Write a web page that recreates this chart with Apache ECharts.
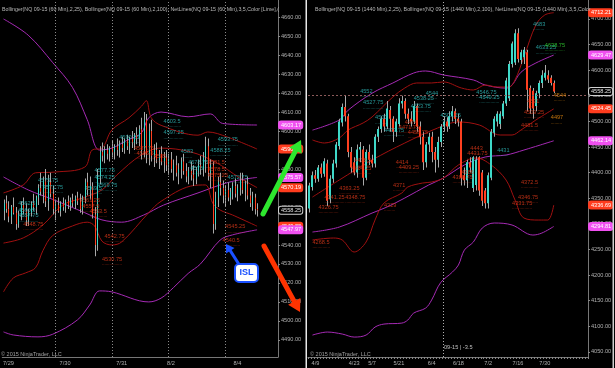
<!DOCTYPE html>
<html><head><meta charset="utf-8">
<script src="https://cdn.jsdelivr.net/npm/echarts@6/dist/echarts.min.js"></script>
<style>html,body{margin:0;padding:0;background:#000;}#c{width:615px;height:368px;}</style>
</head><body><div id="c"></div>
<script>
// ---------------- LEFT PANEL (60 Min) ----------------
const leftCount = 112;
const leftTickIdx = [2, 25, 48, 68, 95];
const leftTickLbl = ['7/29', '7/30', '7/31', '8/2', '8/4'];
const leftSessionBreaks = [21, 44, 67, 90];
const leftYTicks = [4490,4500,4510,4520,4530,4540,4550,4560,4570,4580,4590,4600,4610,4620,4630,4640,4650,4660];
// [open, high, low, close]
const leftOHLC = [
[4558,4564,4553,4562],[4562,4566,4557,4559],[4559,4563,4552,4555],[4555,4561,4551,4560],[4560,4565,4556,4557],
[4557,4560,4548,4551],[4551,4558,4549,4556],[4556,4563,4553,4561],[4561,4565,4556,4558],[4558,4562,4550,4553],
[4553,4559,4550,4557],[4557,4563,4555,4562],[4562,4567,4558,4560],[4560,4566,4556,4565],[4565,4572,4561,4570],
[4570,4578,4566,4568],[4568,4576,4562,4574],[4574,4580,4560,4563],[4563,4577,4558,4573],[4573,4578,4565,4567],
[4567,4571,4556,4559],[4559,4564,4553,4561],[4561,4565,4557,4558],[4558,4563,4555,4562],[4562,4565,4558,4560],
[4560,4564,4557,4563],[4563,4566,4559,4561],[4561,4565,4558,4564],[4564,4567,4560,4562],[4562,4566,4559,4565],
[4565,4568,4561,4563],[4563,4567,4557,4559],[4559,4566,4556,4565],[4565,4575,4562,4573],[4573,4578,4566,4569],
[4569,4576,4564,4571],[4571,4573,4554,4556],[4556,4560,4534,4540],[4540,4580,4537,4576],[4576,4592,4572,4589],
[4589,4594,4584,4587],[4587,4592,4583,4590],[4590,4593,4585,4588],[4588,4592,4584,4591],[4591,4595,4586,4589],
[4589,4593,4585,4592],[4592,4596,4587,4590],[4590,4595,4586,4593],[4593,4597,4589,4591],[4591,4596,4588,4595],
[4595,4598,4590,4592],[4592,4597,4588,4596],[4596,4600,4591,4594],[4594,4599,4590,4598],[4598,4602,4593,4596],
[4596,4603,4592,4601],[4601,4607,4585,4590],[4590,4610,4586,4606],[4606,4609,4583,4588],[4588,4604,4582,4600],
[4600,4606,4584,4587],[4587,4593,4581,4590],[4590,4594,4583,4585],[4585,4590,4580,4588],[4588,4592,4582,4584],
[4584,4589,4578,4586],[4586,4590,4579,4582],[4582,4588,4577,4585],[4585,4589,4578,4580],[4580,4585,4574,4582],
[4582,4587,4576,4578],[4578,4583,4572,4580],[4580,4586,4575,4584],[4584,4588,4577,4579],[4579,4583,4573,4576],
[4576,4581,4572,4579],[4579,4584,4574,4577],[4577,4582,4571,4575],[4575,4581,4572,4579],[4579,4585,4576,4582],
[4582,4587,4577,4580],[4580,4589,4576,4586],[4586,4597,4578,4592],[4592,4596,4574,4578],[4578,4585,4570,4582],
[4582,4584,4546,4551],[4551,4568,4548,4565],[4565,4576,4560,4573],[4573,4578,4566,4570],[4570,4574,4562,4566],
[4566,4571,4560,4569],[4569,4573,4563,4565],[4565,4570,4561,4568],[4568,4573,4564,4571],[4571,4575,4565,4567],
[4567,4572,4563,4570],[4570,4578,4566,4574],[4574,4578,4567,4569],[4569,4574,4563,4572],[4572,4576,4564,4566],
[4566,4570,4560,4562],[4562,4568,4558,4565],[4565,4567,4556,4559],[4559,4562,4555,4558.25]
];
const leftBB100Upper = [[0,4659],[10,4650.5],[20,4636],[28,4623],[34,4606],[39,4590],[44,4591],[50,4595],[56,4599],[59,4607],[64,4610],[75,4607.5],[84,4609],[89,4604],[103,4603.17]];
const leftBB100Mid   = [[0,4575.8],[10,4569],[20,4564],[33,4557],[40,4553.2],[48,4552],[57,4555.8],[65,4561],[79,4567.4],[92,4573.2],[103,4575.57]];
const leftBB100Lower = [[0,4494.2],[4,4492.6],[14,4491.6],[20,4493],[30,4500.5],[35,4508.4],[39,4515.8],[44,4515.3],[59,4510],[64,4512],[69,4517.5],[75,4525],[80,4530],[88,4542.6],[93,4545.3],[103,4547.97]];
const leftBB25Upper  = [[0,4567.4],[8,4571.6],[13,4578],[21,4578.4],[33,4581],[36,4590],[40,4591],[44,4600.5],[51,4607],[56,4613],[58,4616],[60,4607],[64,4603],[79,4597.8],[83,4599.5],[91,4596.8],[103,4590.5]];
const leftBB25Mid    = [[0,4541],[8,4543.7],[16,4550.5],[24,4561],[32,4564.7],[40,4569],[46,4576.8],[56,4587.4],[64,4591],[76,4589],[86,4583.7],[96,4575.3],[103,4570.19]];
const leftBB25Lower  = [[0,4515.3],[4,4522.6],[9,4525.3],[13,4528],[16,4537],[20,4545],[28,4550],[34,4552],[37,4550],[40,4542],[44,4540],[48,4541.6],[59,4557],[64,4563],[76,4571],[82,4571.6],[85,4562],[88,4558.4],[93,4555.8],[103,4549.88]];
// NetLines labels: [text, barIndex, price]
const leftCyanLabels = [['4562.5',5.5,4561.6],['4560.5',6.3,4558.4],['4557.75',5.5,4555.3],['4575.75',14.4,4574.2],['4571.75',15.6,4570.5],
  ['4569.5',32.5,4570],['4577.75',36.6,4579.5],['4574.25',37.4,4575.8],['4569.75',38.2,4571.6],['4590.25',46.6,4596.8],
  ['4603.5',65.2,4605.3],['4597.25',65.2,4599],['4583',72,4589],['4578.75',75.2,4583.7],['4576',76,4580.5],
  ['4593.75',87.3,4595.3],['4588.25',84.1,4590],['4572.75',91.4,4575.8]];
const leftRedLabels = [['4548.75',7.6,4551],['4561.25',30.9,4563.7],['4557.5',31.7,4560.5],['4553.5',35,4557.9],['4542.75',41,4544.7],
  ['4530.75',39.8,4532.6],['4587.75',52.7,4591],['4585.5',53.5,4588.4],['4585',60.7,4586.8],['4581.5',83.3,4583.2],
  ['4578.5',83.3,4580],['4575.25',83.3,4576.8],['4545.25',90.2,4549.5],['4540.5',89.3,4542.6]];
const leftTags = [[4603.17,'m'],[4590.50,'r'],[4575.57,'m'],[4570.19,'r'],[4558.25,'k'],[4549.88,'r'],[4547.97,'m']];

// ---------------- RIGHT PANEL (1440 Min) ----------------
const rightCount = 94;
const rightTickIdx = [2, 15, 21, 30, 41, 50, 60, 70, 79];
const rightTickLbl = ['4/9','4/23','5/7','5/21','6/4','6/18','7/2','7/16','7/30'];
const rightYTicks = [4050,4100,4150,4200,4250,4300,4350,4400,4450,4500,4550,4600,4650,4700];
const rightOHLC = [
[4330,4380,4322,4375],[4372,4402,4365,4395],[4395,4405,4380,4388],[4388,4415,4382,4410],[4410,4418,4390,4398],
[4398,4428,4392,4422],[4418,4425,4335,4345],[4348,4395,4340,4388],[4388,4425,4380,4418],[4418,4460,4410,4455],
[4452,4505,4445,4500],[4498,4535,4490,4528],[4528,4550,4500,4510],[4510,4515,4430,4440],[4440,4450,4400,4410],
[4420,4430,4395,4400],[4400,4455,4390,4445],[4445,4460,4420,4450],[4445,4452,4375,4390],[4390,4445,4385,4440],
[4440,4455,4415,4425],[4425,4435,4410,4418],[4418,4475,4410,4470],[4470,4490,4460,4485],[4485,4510,4478,4505],
[4505,4515,4480,4490],[4490,4540,4485,4525],[4522,4530,4480,4505],[4505,4510,4460,4480],[4480,4505,4470,4500],
[4495,4545,4490,4535],[4535,4550,4525,4540],[4540,4545,4505,4515],[4515,4525,4495,4505],[4505,4520,4490,4500],
[4500,4540,4495,4530],[4530,4535,4480,4490],[4490,4500,4455,4470],[4470,4480,4405,4420],[4420,4460,4410,4455],
[4455,4478,4440,4470],[4470,4480,4420,4440],[4440,4450,4400,4425],[4425,4470,4410,4460],[4460,4495,4450,4490],
[4490,4510,4480,4500],[4500,4508,4480,4490],[4490,4520,4485,4510],[4510,4530,4500,4520],[4520,4525,4495,4505],
[4505,4515,4490,4500],[4500,4505,4375,4390],[4395,4410,4375,4385],[4385,4425,4370,4420],[4420,4430,4400,4410],
[4370,4432,4362,4430],[4376,4432,4365,4425],[4430,4432,4355,4365],[4400,4405,4335,4345],[4365,4370,4330,4340],
[4340,4400,4330,4395],[4390,4485,4385,4480],[4478,4510,4470,4505],[4500,4520,4490,4515],[4495,4520,4485,4515],
[4510,4540,4505,4535],[4535,4585,4530,4580],[4545,4618,4540,4612],[4612,4656,4605,4652],[4615,4680,4610,4672],
[4672,4682,4615,4622],[4620,4640,4612,4635],[4625,4645,4612,4640],[4635,4640,4520,4562],[4565,4570,4515,4525],
[4560,4565,4505,4525],[4530,4560,4520,4555],[4555,4580,4545,4575],[4575,4600,4565,4590],[4585,4610,4580,4595],
[4590,4600,4575,4582],[4585,4590,4570,4575],[4575,4580,4555,4558.25]
];
const rightBB100Upper = [[1,4483],[10,4502.7],[13,4522],[21,4555],[28,4575],[35,4594.5],[39,4598.4],[45,4590.6],[55,4580.9],[59,4571],[66,4565],[68,4571],[71,4596],[76,4614],[82,4629.47]];
const rightBB100Mid   = [[1,4284],[10,4293.7],[21,4321],[26,4332.8],[32,4350.4],[40,4375.8],[45,4389.5],[52,4414.9],[59,4430.5],[66,4434.4],[72,4444.1],[82,4462.14]];
const rightBB100Lower = [[1,4082.8],[6,4088.7],[11,4084.8],[15,4078.9],[19,4082.8],[22,4098.4],[25,4104.3],[31,4106.2],[33,4112.1],[35,4125.8],[39,4135.5],[41,4151.2],[44,4185],[48,4205.9],[50,4219.5],[52,4248.8],[55,4264.4],[58,4291.8],[62,4301.6],[68,4297.7],[75,4278.1],[78,4282],[82,4294.81]];
const rightBB25Upper  = [[1,4463.7],[5,4457.8],[10,4467.6],[13,4483.2],[18,4496.9],[21,4508.6],[28,4547.7],[32,4565.2],[36,4575],[41,4575],[45,4577],[51,4565.2],[55,4561.3],[59,4571],[63,4567.2],[67,4567.2],[69,4580.9],[72,4625.8],[76,4688.3],[79,4707.8],[82,4712.21]];
const rightBB25Mid    = [[1,4352.3],[10,4385.5],[21,4424.6],[32,4457.8],[43,4487],[50,4498.8],[57,4493],[64,4473.4],[68,4473.4],[71,4483.2],[76,4502.7],[82,4524.45]];
const rightBB25Lower  = [[1,4268.4],[8,4272.3],[11,4268.4],[15,4245],[19,4264.5],[22,4307.4],[25,4340.6],[31,4360.2],[33,4371.9],[38,4379.7],[41,4381.6],[45,4389.5],[50,4414.9],[56,4428.5],[61,4414.9],[66,4385.5],[69,4346.5],[72,4311.3],[77,4307.4],[80,4307.4],[82,4336.69]];
const rightCyanLabels = [['4552',17,4559.4],['4527.75',18,4536],['4500',22,4506.8],['4479.75',25.3,4483.2],['4538.25',35.4,4545.7],
  ['4544',38.8,4555.5],['4523.75',34.4,4530],['4503.25',43.8,4512.5],['4546.75',56.2,4557.4],['4540.25',57.2,4547.7],
  ['4683',75,4690],['4633.25',76,4643.4],['4431',63.3,4444.1]];
const rightGreenLabels = [['4638.75',79,4649.2]];
const rightRedLabels = [['4418.5',14.6,4424.6],['4404.25',13.6,4409],['4414',28.7,4420.7],['4409.25',30.4,4410.9],['4474',32.1,4498.8],
  ['4471.75',30.4,4489],['4458.75',33.1,4479.3],['4371',28,4375.8],['4329',24.7,4336.7],['4363.25',9.6,4369.9],
  ['4341.25',5.2,4352.3],['4348.75',11.9,4352.3],['4326.75',2.9,4332.8],['4268.5',1.2,4264.5],['4443',53.9,4448],
  ['4431.75',53.2,4438.3],['4388.75',47.8,4391.4],['4386',51.2,4401.2],['4372.5',70.7,4381.6],['4346.75',69.7,4352.3],
  ['4331.75',68.3,4340.6],['4531',73,4539.8],['4509.25',72.3,4518.4],['4481.5',71.3,4493]];
const rightOrangeLabels = [['4544',81.7,4551.6],['4497',80.7,4506.8]];
const rightTags = [[4712.21,'r'],[4629.47,'m'],[4558.25,'k'],[4524.45,'r'],[4462.14,'m'],[4336.69,'r'],[4294.81,'m']];
const rightCrossX = 45, rightCrossY = 4552;

// ---------------- STYLE ----------------
const FONT = '"Liberation Sans", Arial, sans-serif';
const FS = 5.6;
const UP = '#3ed8c8', DOWN = '#ff4020', WICK = '#a8a8a8';
const PURPLE = '#a52ab4', DARKRED = '#a01010';
const AXC = '#b0b0b0';
const TAGC = { m: ['#f050f0', '#ffffff', '#f050f0'], r: ['#ff3c1e', '#ffffff', '#ff3c1e'], k: ['#000000', '#e0e0e0', '#d0d0d0'] };

function cats(n, p) { const a = []; for (let i = 0; i < n; i++) a.push(p + i); return a; }
function lblMap(idx, lbl) { const m = {}; idx.forEach((v, k) => m[v] = lbl[k]); return m; }

function candleRender(factor) {
  return function (params, api) {
    const i = api.value(0), o = api.value(1), h = api.value(2), l = api.value(3), c = api.value(4);
    const pO = api.coord([i, o]), pC = api.coord([i, c]), pH = api.coord([i, h]), pL = api.coord([i, l]);
    const xc = Math.round(pO[0]);
    const bw = Math.max(1, Math.round(api.size([1, 0])[0] * factor));
    const top = Math.min(pO[1], pC[1]);
    return { type: 'group', children: [
      { type: 'rect', shape: { x: xc, y: pH[1], width: 1, height: pL[1] - pH[1] }, style: { fill: WICK } },
      { type: 'rect', shape: { x: xc - Math.floor(bw / 2), y: top, width: bw, height: Math.max(1, Math.abs(pC[1] - pO[1])) }, style: { fill: c >= o ? UP : DOWN } }
    ]};
  };
}
function bandSeries(data, color, ax) {
  return { type: 'line', xAxisIndex: ax, yAxisIndex: ax, data: data, smooth: 0.35, showSymbol: false, symbol: 'none',
    lineStyle: { color: color, width: 1 }, silent: true, z: 2 };
}
function labelSeries(list, color, ax) {
  return { type: 'scatter', xAxisIndex: ax, yAxisIndex: ax, symbolSize: 0, silent: true, z: 5,
    data: list.map(d => ({ name: d[0], value: [d[1], d[2]] })),
    label: { show: true, position: 'right', distance: 0, offset: [0, 1.5],
      formatter: p => '{t|' + p.name + '}\n{u|' + '.'.repeat(Math.round(p.name.length * 2.3)) + '}',
      color: color, fontFamily: FONT,
      rich: { t: { fontSize: FS, lineHeight: 6, color: color, fontFamily: FONT }, u: { fontSize: 4.5, lineHeight: 3, color: color, fontFamily: FONT } } } };
}
function tagLines(tags) {
  return tags.map(t => ({ yAxis: t[0], lineStyle: { color: 'rgba(0,0,0,0)', width: 1 },
    label: { show: true, position: 'end', distance: 1, formatter: p => Number(p.value).toFixed(2),
      backgroundColor: TAGC[t[1]][0], color: TAGC[t[1]][1], borderColor: TAGC[t[1]][2], borderWidth: 1, borderRadius: 2,
      padding: [1, 1, 0, 2], fontSize: FS, fontFamily: FONT } }));
}
function xAxisDef(ax, n, prefix, map, ticks) {
  return { type: 'category', gridIndex: ax, data: cats(n, prefix),
    axisLine: { lineStyle: { color: '#777' } },
    axisTick: { show: ticks, interval: 0, length: 2, lineStyle: { color: '#888' } },
    axisLabel: { interval: 0, margin: 3, color: AXC, fontSize: FS, fontFamily: FONT, formatter: (v, i) => map[i] || '' },
    splitLine: { show: false } };
}
function yAxisDef(ax, min, max, ticks) {
  return { type: 'value', gridIndex: ax, position: 'right', min: min, max: max, scale: true,
    axisLine: { show: true, lineStyle: { color: '#777' } },
    axisTick: { show: true, length: 2, customValues: ticks, lineStyle: { color: '#888' } },
    axisLabel: { margin: 3, color: AXC, fontSize: FS, fontFamily: FONT, customValues: ticks, formatter: v => v.toFixed(2) },
    splitLine: { show: false } };
}

const leftMap = lblMap(leftTickIdx, leftTickLbl);
const rightMap = lblMap(rightTickIdx, rightTickLbl);

const series = [
  bandSeries(leftBB100Upper, PURPLE, 0), bandSeries(leftBB100Mid, PURPLE, 0), bandSeries(leftBB100Lower, PURPLE, 0),
  bandSeries(leftBB25Upper, DARKRED, 0), bandSeries(leftBB25Mid, DARKRED, 0), bandSeries(leftBB25Lower, DARKRED, 0),
  { type: 'custom', xAxisIndex: 0, yAxisIndex: 0, z: 3, renderItem: candleRender(0.6),
    data: leftOHLC.map((d, i) => [i, d[0], d[1], d[2], d[3]]), encode: { x: 0, y: [1, 2, 3, 4] },
    markLine: { silent: true, symbol: 'none', animation: false,
      data: leftSessionBreaks.map(b => ({ xAxis: b, lineStyle: { color: '#8a8a8a', type: [1, 2], width: 1 }, label: { show: false } })) } },
  { type: 'line', xAxisIndex: 0, yAxisIndex: 0, data: [], z: 20,
    markLine: { silent: true, symbol: 'none', animation: false, data: tagLines(leftTags) } },
  labelSeries(leftCyanLabels, '#2fbcbc', 0), labelSeries(leftRedLabels, '#e23a1a', 0),

  bandSeries(rightBB100Upper, PURPLE, 1), bandSeries(rightBB100Mid, PURPLE, 1), bandSeries(rightBB100Lower, PURPLE, 1),
  bandSeries(rightBB25Upper, DARKRED, 1), bandSeries(rightBB25Mid, DARKRED, 1), bandSeries(rightBB25Lower, DARKRED, 1),
  { type: 'custom', xAxisIndex: 1, yAxisIndex: 1, z: 3, renderItem: candleRender(0.7),
    data: rightOHLC.map((d, i) => [i, d[0], d[1], d[2], d[3]]), encode: { x: 0, y: [1, 2, 3, 4] },
    markLine: { silent: true, symbol: 'none', animation: false,
      data: [{ xAxis: rightCrossX, lineStyle: { color: '#b0b0b0', type: [1, 2], width: 1 }, label: { show: false } },
             { yAxis: rightCrossY, lineStyle: { color: '#8c5a5a', type: [2, 2], width: 1 }, label: { show: false } }] } },
  { type: 'line', xAxisIndex: 1, yAxisIndex: 1, data: [], z: 20,
    markLine: { silent: true, symbol: 'none', animation: false, data: tagLines(rightTags) } },
  labelSeries(rightCyanLabels, '#2fbcbc', 1), labelSeries(rightRedLabels, '#e23a1a', 1),
  labelSeries(rightGreenLabels, '#33dd33', 1), labelSeries(rightOrangeLabels, '#f09010', 1)
];

function arrow(x1, y1, x2, y2, w, headL, headW, color) {
  const dx = x2 - x1, dy = y2 - y1, L = Math.hypot(dx, dy), ux = dx / L, uy = dy / L;
  const bx = x2 - ux * headL, by = y2 - uy * headL, px = -uy, py = ux;
  return [
    { type: 'polyline', shape: { points: [[x1, y1], [bx + ux, by + uy]] }, style: { stroke: color, lineWidth: w, lineCap: 'round' }, z: 100 },
    { type: 'polygon', shape: { points: [[x2, y2], [bx + px * headW, by + py * headW], [bx - px * headW, by - py * headW]] }, style: { fill: color }, z: 100 }
  ];
}

const chart = echarts.init(document.getElementById('c'), null, { renderer: 'canvas' });
chart.setOption({
  backgroundColor: '#000',
  animation: false,
  title: [
    { text: 'Bollinger(NQ 09-15 (60 Min),2,25), Bollinger(NQ 09-15 (60 Min),2,100), NetLines(NQ 09-15 (60 Min),3,5,Color [Lime],(',
      left: -3, top: 2, textStyle: { color: '#b8b8b8', fontSize: 5.3, fontWeight: 'normal', fontFamily: FONT, width: 280, overflow: 'truncate', ellipsis: '' } },
    { text: 'Bollinger(NQ 09-15 (1440 Min),2,25), Bollinger(NQ 09-15 (1440 Min),2,100), NetLines(NQ 09-15 (1440 Min),3,5,Color [',
      left: 310, top: 2, textStyle: { color: '#b8b8b8', fontSize: 5.3, fontWeight: 'normal', fontFamily: FONT, width: 278, overflow: 'truncate', ellipsis: '' } }
  ],
  grid: [
    { left: 0, top: 0, width: 278, height: 357 },
    { left: 308, top: 0, width: 280, height: 357 }
  ],
  xAxis: [ xAxisDef(0, leftCount, 'L', leftMap, false), xAxisDef(1, rightCount, 'R', rightMap, true) ],
  yAxis: [ yAxisDef(0, 4481, 4669, leftYTicks), yAxisDef(1, 4040, 4737, rightYTicks) ],
  series: series,
  graphic: [
    { type: 'rect', shape: { x: 305.5, y: 0, width: 1.5, height: 368 }, style: { fill: '#e8e8e8' }, z: 50 },
    { type: 'rect', shape: { x: 612.5, y: 0, width: 1.5, height: 368 }, style: { fill: '#d0d0d0' }, z: 50 },
    { type: 'text', x: 1, y: 351, style: { text: '© 2015 NinjaTrader, LLC', fill: '#a0a0a0', fontSize: 5.5, fontFamily: FONT }, z: 50 },
    { type: 'text', x: 310, y: 351, style: { text: '© 2015 NinjaTrader, LLC', fill: '#a0a0a0', fontSize: 5.5, fontFamily: FONT }, z: 50 },
    { type: 'text', x: 444, y: 344, style: { text: '09-15 | -3.5', fill: '#c0c0c0', fontSize: FS, fontFamily: FONT }, z: 50 },
    ...arrow(263, 214, 301, 140, 5, 12, 7, '#2ee62e'),
    ...arrow(264, 246, 300, 312, 5, 12, 7, '#ff3300'),
    ...arrow(240, 266, 226, 244, 3, 8, 5, '#1a50ff'),
    { type: 'rect', shape: { x: 235, y: 264, width: 23, height: 18, r: 4 }, style: { fill: '#ffffff', stroke: '#1a50ff', lineWidth: 2 }, z: 101 },
    { type: 'text', x: 246.5, y: 273, style: { text: 'ISL', fill: '#1a50ff', fontSize: 9, fontWeight: 'bold', fontFamily: 'Liberation Sans, Arial, sans-serif', align: 'center', verticalAlign: 'middle' }, z: 102 }
  ]
});
</script></body></html>
